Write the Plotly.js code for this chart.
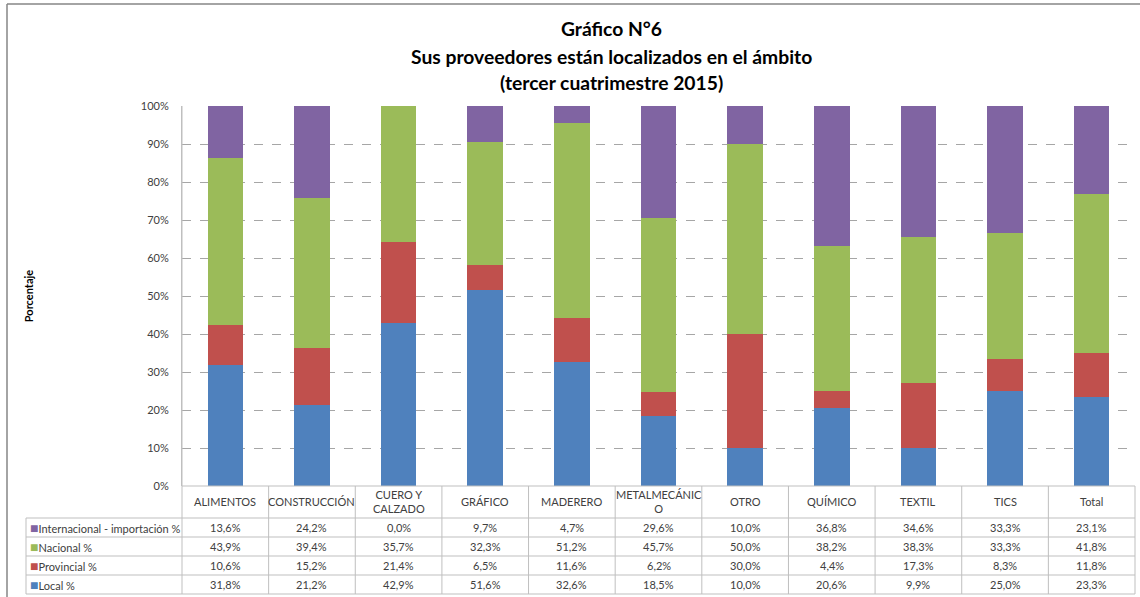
<!DOCTYPE html>
<html><head><meta charset="utf-8">
<script src="https://cdn.plot.ly/plotly-3.0.1.min.js"></script>
<style>html,body{margin:0;padding:0;background:#fff}#chart{width:1140px;height:597px}</style>
</head><body><div id="chart"></div>
<script>
const categories = ["ALIMENTOS","CONSTRUCCIÓN","CUERO Y CALZADO","GRÁFICO","MADERERO","METALMECÁNICO","OTRO","QUÍMICO","TEXTIL","TICS","Total"];
const headerLabels = ["ALIMENTOS","CONSTRUCCIÓN","CUERO Y<br>CALZADO","GRÁFICO","MADERERO","METALMECÁNIC<br>O","OTRO","QUÍMICO","TEXTIL","TICS","Total"];
const local = [31.8,21.2,42.9,51.6,32.6,18.5,10.0,20.6,9.9,25.0,23.3];
const provincial = [10.6,15.2,21.4,6.5,11.6,6.2,30.0,4.4,17.3,8.3,11.8];
const nacional = [43.9,39.4,35.7,32.3,51.2,45.7,50.0,38.2,38.3,33.3,41.8];
const internacional = [13.6,24.2,0.0,9.7,4.7,29.6,10.0,36.8,34.6,33.3,23.1];
const seriesNames = ["Local %","Provincial %","Nacional %","Internacional - importación %"];
const seriesColors = ["#4F81BD","#C0504D","#9BBB59","#8064A2"];
const yTicks = [0,10,20,30,40,50,60,70,80,90,100];

const series = [local, provincial, nacional, internacional];
const traces = series.map((vals,i)=>({
  type:'bar', x:categories, y:vals, name:seriesNames[i],
  marker:{color:seriesColors[i]}, hoverinfo:'skip'
}));

// geometry helpers (pixel -> paper)
const L=182, R=5, T=106, B=111, W=1140, H=597;
const pw = W-L-R, ph = H-T-B;
const py = p => (H-B-p)/ph;
const px = p => (p-L)/pw;

const lineColor = '#BFBFBF';
const shapes = [];
const annotations = [];
[518,537,556,575,594].forEach(p=>{
  shapes.push({type:'line',xref:'paper',yref:'paper',x0:px(26),x1:1,y0:py(p),y1:py(p),line:{color:lineColor,width:1}});
});
shapes.push({type:'line',xref:'paper',yref:'paper',x0:0,x1:1,y0:0,y1:0,line:{color:lineColor,width:1}});
for(let k=0;k<=categories.length;k++){
  shapes.push({type:'line',xref:'paper',yref:'paper',x0:k/categories.length,x1:k/categories.length,y0:(k===0?1:0),y1:py(594),line:{color:lineColor,width:1}});
}
shapes.push({type:'line',xref:'paper',yref:'paper',x0:px(26),x1:px(26),y0:py(518),y1:py(594),line:{color:lineColor,width:1}});
shapes.push({type:'line',xref:'paper',yref:'paper',x0:px(7),x1:px(1140),y0:py(4),y1:py(4),line:{color:'#868686',width:1.5}});
shapes.push({type:'line',xref:'paper',yref:'paper',x0:px(7),x1:px(7),y0:py(4),y1:py(597),line:{color:'#868686',width:1.5}});

const tf = {family:'Lato, "Open Sans", sans-serif', size:11, color:'#404040'};
categories.forEach((c,i)=>{
  annotations.push({xref:'x',yref:'paper',x:c,y:py(502),text:headerLabels[i],showarrow:false,font:tf,xanchor:'center',yanchor:'middle'});
});
const rowOrder = [3,2,1,0];
const rowCenters = [527.5,546.5,565.5,584.5];
rowOrder.forEach((si,r)=>{
  annotations.push({xref:'paper',yref:'paper',x:px(28),y:py(rowCenters[r]),xanchor:'left',yanchor:'middle',showarrow:false,
    text:'<span style="color:'+seriesColors[si]+';font-size:14px">■</span>'+seriesNames[si],font:tf});
  series[si].forEach((v,i)=>{
    annotations.push({xref:'x',yref:'paper',x:categories[i],y:py(rowCenters[r]),xanchor:'center',yanchor:'middle',showarrow:false,
      text:v.toFixed(1).replace('.',',')+'%',font:tf});
  });
});
const titleLines = ["Gráfico N°6","Sus proveedores están localizados en el ámbito","(tercer cuatrimestre 2015)"];
const titleY = [29,57,83];
titleLines.forEach((t,i)=>{
  annotations.push({xref:'paper',yref:'paper',x:px(611),y:py(titleY[i]),text:'<b>'+t+'</b>',showarrow:false,xanchor:'center',yanchor:'middle',
    font:{family:'Lato, "Open Sans", sans-serif',size:19.3,color:'#000'}});
});

const layout = {
  width:W, height:H,
  margin:{l:L,r:R,t:T,b:B,pad:0},
  barmode:'stack', bargap:0.59,
  showlegend:false,
  paper_bgcolor:'#fff', plot_bgcolor:'#fff',
  xaxis:{type:'category',showticklabels:false,showgrid:false,zeroline:false,showline:false,ticks:'',fixedrange:true},
  yaxis:{range:[0,100],tickvals:yTicks,ticktext:yTicks.map(v=>v+'%'),showgrid:true,gridcolor:'#A6A6A6',griddash:'dash',gridwidth:1,
    zeroline:false,showline:true,linecolor:lineColor,ticks:'',ticklabelstandoff:10,tickfont:tf,
    title:{text:'<b>Porcentaje</b>',font:{family:'Lato, "Open Sans", sans-serif',size:11,color:'#000'},standoff:104}},
  shapes:shapes, annotations:annotations
};
Plotly.newPlot('chart',traces,layout,{displayModeBar:false,staticPlot:true});
</script></body></html>
